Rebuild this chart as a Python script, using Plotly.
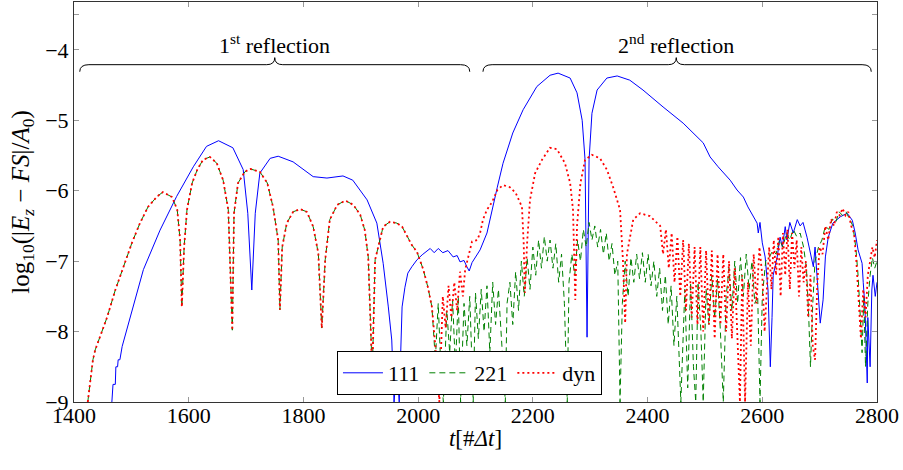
"""Field error after reflections for three boundary settings."""

import plotly.graph_objects as go

# 111 boundary (solid blue)
t_111 = [
    1466, 1468, 1472, 1473, 1476, 1477, 1480, 1484, 1521, 1550, 1579, 1608, 1631, 1652,
    1677, 1695, 1703, 1710, 1716, 1724, 1742, 1756, 1782, 1817, 1841, 1869, 1886, 1899,
    1911, 1928, 1939, 1948, 1954, 1958, 1963, 1967, 1972, 1977, 1982, 1989, 1998, 2007,
    2016, 2021, 2028, 2035, 2043, 2052, 2061, 2068, 2073, 2080, 2085, 2089, 2094, 2099,
    2108, 2120, 2131, 2138, 2148, 2165, 2183, 2207, 2230, 2244, 2265, 2277, 2286, 2291,
    2294.5, 2298, 2303, 2312, 2329, 2347, 2369, 2392, 2427, 2462, 2497, 2509, 2523, 2535,
    2544, 2556, 2567, 2575, 2584, 2591, 2593, 2596, 2600, 2605, 2610, 2614, 2617, 2619,
    2626, 2631, 2635, 2640, 2643, 2648, 2654, 2661, 2666, 2671, 2678, 2683, 2689, 2692,
    2696, 2701, 2706, 2710, 2715, 2723, 2736, 2748, 2757, 2762, 2767, 2774, 2776, 2779,
    2783, 2784, 2788, 2791, 2793, 2797, 2800,
]
err_111 = [
    -9.0, -8.75, -8.75, -8.5, -8.5, -8.4, -8.4, -8.21, -7.12, -6.56, -6.08, -5.66, -5.37, -5.29,
    -5.39, -5.70, -6.32, -7.41, -6.32, -5.75, -5.54, -5.51, -5.59, -5.80, -5.82, -5.79, -5.85, -5.99,
    -6.13, -6.46, -7.03, -7.65, -8.12, -9.0, -8.5, -9.0, -7.65, -7.37, -7.17, -7.08, -6.98, -6.91,
    -6.85, -6.82, -6.88, -6.82, -6.88, -6.85, -6.94, -6.92, -7.01, -6.99, -7.08, -7.14, -7.02, -6.95,
    -6.84, -6.60, -6.23, -5.95, -5.61, -5.18, -4.85, -4.52, -4.36, -4.33, -4.40, -4.61, -5.0, -5.56,
    -8.08, -5.56, -4.90, -4.57, -4.40, -4.37, -4.43, -4.57, -4.81, -5.04, -5.32, -5.52, -5.66, -5.76,
    -5.85, -5.99, -6.09, -6.23, -6.37, -6.46, -6.60, -6.45, -6.74, -6.94, -7.41, -8.5, -7.8, -7.2,
    -6.94, -6.66, -6.80, -6.51, -6.70, -6.45, -6.60, -6.41, -6.50, -6.45, -6.66, -6.84, -7.08, -6.80,
    -7.36, -7.88, -7.55, -6.94, -6.66, -6.46, -6.37, -6.32, -6.42, -6.60, -6.84, -7.03, -7.30, -7.65,
    -8.73, -7.8, -8.5, -7.41, -7.2, -7.5, -7.3,
]

# first reflection, where 221 and dyn coincide
t_common = [
    1424, 1428, 1433, 1437, 1445, 1458, 1472, 1485, 1501, 1515, 1529, 1545, 1555, 1571,
    1580, 1585, 1588, 1592, 1597, 1606, 1615, 1625, 1637, 1649, 1660, 1669, 1676, 1679,
    1686, 1698, 1707, 1724, 1737, 1747, 1756, 1759, 1763, 1771, 1782, 1794, 1806, 1817,
    1826, 1832, 1838, 1846, 1859, 1873, 1887, 1899, 1907, 1913, 1920, 1925, 1930, 1939,
    1951, 1963, 1972, 1981, 1989, 1998, 2009, 2017, 2024,
]
err_common = [
    -9.0, -8.73, -8.4, -8.26, -8.07, -7.79, -7.41, -7.12, -6.74, -6.46, -6.23, -6.08, -6.02, -6.09,
    -6.27, -6.70, -7.65, -6.80, -6.27, -5.89, -5.70, -5.56, -5.52, -5.61, -5.85, -6.27, -7.98, -6.32,
    -5.89, -5.73, -5.69, -5.73, -5.89, -6.23, -6.70, -7.69, -6.80, -6.46, -6.30, -6.26, -6.30, -6.51,
    -6.89, -7.95, -6.98, -6.41, -6.20, -6.14, -6.20, -6.34, -6.56, -6.94, -8.6, -6.98, -6.80, -6.51,
    -6.44, -6.46, -6.51, -6.66, -6.77, -6.87, -7.12, -7.37, -7.65,
]

# 221 boundary after 2024 (dashed green)
t_221_tail = [
    2030, 2035, 2040, 2044, 2050, 2055, 2060, 2065, 2070, 2074, 2080, 2085, 2090, 2096,
    2100, 2105, 2110, 2115, 2120, 2125, 2130, 2135, 2140, 2146, 2152, 2155, 2160, 2165,
    2170, 2175, 2180, 2185, 2190, 2195, 2200, 2205, 2210, 2215, 2220, 2225, 2230, 2235,
    2240, 2245, 2250, 2255, 2260, 2263, 2268, 2273, 2278, 2283, 2288, 2293, 2298, 2303,
    2308, 2313, 2318, 2323, 2328, 2333, 2338, 2343, 2348, 2352, 2356, 2361, 2366, 2371,
    2376, 2381, 2386, 2391, 2396, 2401, 2406, 2411, 2416, 2421, 2426, 2431, 2436, 2441,
    2446, 2451, 2458, 2465, 2470, 2475, 2480, 2484, 2488, 2493, 2497, 2502, 2507, 2512,
    2517, 2522, 2527, 2532, 2537, 2542, 2547, 2552, 2557, 2562, 2567, 2572, 2577, 2582,
    2587, 2592, 2596, 2600, 2606, 2612, 2618, 2624, 2630, 2636, 2642, 2648, 2654, 2660,
    2666, 2672, 2677, 2681, 2684, 2688, 2692, 2698, 2704, 2710, 2716, 2722, 2728, 2734,
    2740, 2746, 2752, 2758, 2763, 2767, 2771, 2774, 2777, 2780, 2784, 2788, 2792, 2796,
    2800,
]
err_221_tail = [
    -8.4, -7.6, -8.6, -9.0, -7.7, -8.3, -7.55, -8.5, -7.5, -9.0, -7.6, -8.2, -7.5, -9.0,
    -7.45, -8.1, -7.4, -8.0, -7.35, -8.3, -7.3, -7.9, -7.4, -8.2, -9.0, -7.6, -7.3, -7.9,
    -7.15, -7.7, -7.0, -7.5, -6.95, -7.4, -6.8, -7.2, -6.7, -7.1, -6.65, -7.0, -6.7, -7.1,
    -6.75, -7.3, -6.9, -7.6, -9.0, -7.3, -6.9, -7.2, -6.7, -7.0, -6.55, -6.8, -6.45, -6.7,
    -6.5, -6.8, -6.55, -6.9, -6.6, -7.0, -6.75, -7.2, -7.0, -9.0, -7.6, -7.0, -7.5, -6.95,
    -7.3, -6.9, -7.25, -6.88, -7.3, -6.9, -7.35, -7.0, -7.5, -7.1, -7.7, -7.2, -7.9, -7.35,
    -8.2, -7.5, -9.0, -7.4, -8.8, -7.3, -8.5, -9.0, -7.3, -8.0, -9.0, -7.4, -7.9, -7.2,
    -7.8, -7.25, -8.0, -9.0, -7.5, -7.1, -7.7, -7.0, -7.6, -6.95, -7.5, -6.9, -7.4, -7.0,
    -7.6, -7.5, -9.0, -7.5, -7.0, -6.95, -6.85, -6.9, -6.7, -6.8, -6.6, -6.7, -6.55, -6.65,
    -6.6, -6.8, -7.1, -7.8, -8.5, -7.6, -7.0, -6.8, -6.7, -6.5, -6.55, -6.4, -6.45, -6.3,
    -6.35, -6.3, -6.4, -6.5, -6.8, -7.2, -7.8, -8.3, -7.5, -8.5, -7.6, -7.2, -6.95, -7.1,
    -7.0,
]

# dyn boundary after 2024 (dotted red)
t_dyn_tail = [
    2030, 2037, 2043, 2048, 2053, 2058, 2063, 2068, 2073, 2078, 2082, 2087, 2094, 2103,
    2108, 2113, 2120, 2129, 2138, 2148, 2160, 2170, 2181, 2184, 2186, 2190, 2195, 2204,
    2216, 2230, 2242, 2256, 2265, 2270, 2274, 2277, 2283, 2291, 2303, 2317, 2329, 2340,
    2352, 2357, 2361, 2364, 2370, 2375, 2387, 2404, 2422, 2427, 2432, 2437, 2442, 2447,
    2452, 2457, 2462, 2467, 2472, 2477, 2482, 2487, 2492, 2497, 2502, 2507, 2512, 2517,
    2522, 2527, 2532, 2537, 2542, 2547, 2552, 2557, 2561, 2565, 2570, 2575, 2580, 2585,
    2590, 2595, 2600, 2604, 2608, 2612, 2616, 2620, 2624, 2628, 2632, 2636, 2640, 2644,
    2648, 2652, 2656, 2660, 2664, 2668, 2672, 2676, 2680, 2684, 2688, 2692, 2696, 2700,
    2705, 2710, 2715, 2720, 2725, 2730, 2735, 2740, 2745, 2750, 2755, 2760, 2764, 2768,
    2772, 2776, 2780, 2784, 2788, 2792, 2796, 2800,
]
err_dyn_tail = [
    -8.2, -9.0, -7.5, -7.95, -7.35, -7.8, -7.3, -7.7, -7.15, -7.5, -7.12, -6.94, -6.72, -6.70,
    -6.60, -6.41, -6.27, -6.16, -5.99, -5.92, -5.95, -6.03, -6.23, -6.74, -7.45, -6.74, -6.13, -5.75,
    -5.56, -5.39, -5.41, -5.61, -5.89, -6.27, -7.55, -6.5, -5.89, -5.56, -5.49, -5.54, -5.70, -5.95,
    -6.27, -6.98, -7.88, -6.9, -6.60, -6.41, -6.32, -6.36, -6.5, -6.9, -6.55, -7.1, -6.6, -7.3,
    -6.65, -7.5, -6.7, -7.7, -6.75, -7.8, -6.8, -7.9, -6.8, -8.0, -6.85, -7.9, -6.85, -8.1,
    -6.9, -7.9, -6.9, -8.0, -7.0, -8.1, -7.1, -8.3, -9.0, -7.2, -9.0, -7.3, -8.2, -6.9,
    -7.6, -6.8, -7.2, -8.0, -7.3, -6.8, -7.4, -6.7, -7.2, -6.65, -7.5, -6.6, -7.2, -6.55,
    -7.4, -6.6, -7.1, -6.7, -7.5, -6.8, -7.3, -7.0, -7.8, -7.2, -8.2, -8.4, -7.3, -6.8,
    -6.9, -6.5, -6.7, -6.4, -6.5, -6.3, -6.35, -6.25, -6.35, -6.3, -6.5, -6.6, -7.0, -7.6,
    -8.1, -7.4, -7.8, -7.2, -7.0, -6.8, -6.95, -6.7,
]

x_ticks = [1400, 1600, 1800, 2000, 2200, 2400, 2600, 2800]
y_ticks = [-9, -8, -7, -6, -5, -4, -3.5]
y_tick_labels = ["\u22129", "\u22128", "\u22127", "\u22126", "\u22125", "\u22124", ""]

FONT = "Liberation Serif"

fig = go.Figure()
fig.add_trace(
    go.Scatter(
        x=t_111,
        y=err_111,
        mode="lines",
        name="111",
        line={"color": "#0000ff", "width": 1},
    ),
)
fig.add_trace(
    go.Scatter(
        x=t_common + t_221_tail,
        y=err_common + err_221_tail,
        mode="lines",
        name="221",
        line={"color": "#008000", "width": 1, "dash": "6px,4px"},
    ),
)
fig.add_trace(
    go.Scatter(
        x=t_common + t_dyn_tail,
        y=err_common + err_dyn_tail,
        mode="lines",
        name="dyn",
        line={"color": "#ff0000", "width": 1.8, "dash": "2px,3px"},
    ),
)


def brace(x0, x1, xc, y_end=-4.31, y_mid=-4.21, y_tip=-4.11, dx=16, dtip=14):
    """Horizontal curly brace opening downwards, in data coordinates."""
    return (
        f"M {x0},{y_end} Q {x0},{y_mid} {x0 + dx},{y_mid} "
        f"L {xc - dtip},{y_mid} Q {xc},{y_mid} {xc},{y_tip} "
        f"Q {xc},{y_mid} {xc + dtip},{y_mid} "
        f"L {x1 - dx},{y_mid} Q {x1},{y_mid} {x1},{y_end}"
    )


for x0, x1, xc, label in [
    (1410, 2090, 1750, "1<sup>st</sup> reflection"),
    (2113, 2790, 2450, "2<sup>nd</sup> reflection"),
]:
    fig.add_shape(
        type="path",
        path=brace(x0, x1, xc),
        xref="x",
        yref="y",
        line={"color": "black", "width": 1},
    )
    fig.add_annotation(
        x=xc,
        y=-3.92,
        text=label,
        showarrow=False,
        font={"family": FONT, "size": 22, "color": "black"},
    )

axis_common = {
    "showline": True,
    "linecolor": "#333333",
    "linewidth": 1,
    "mirror": "ticks",
    "ticks": "inside",
    "ticklen": 5,
    "tickcolor": "#999999",
    "showgrid": False,
    "zeroline": False,
    "tickfont": {"family": FONT, "size": 22, "color": "black"},
}

fig.update_xaxes(
    range=[1400, 2800],
    tickvals=x_ticks,
    ticklabelstandoff=-6,
    ticklabeloverflow="allow",
    title={
        "text": "<i>t</i>[#<i>\u0394t</i>]",
        "font": {"family": FONT, "size": 23, "color": "black"},
        "standoff": 2,
    },
    **axis_common,
)
fig.update_yaxes(
    range=[-9, -3.32],
    tickvals=y_ticks,
    ticktext=y_tick_labels,
    title={
        "text": "log<sub>10</sub>(|<i>E</i><sub><i>z</i></sub> \u2212 <i>FS</i>|/<i>A</i><sub>0</sub>)",
        "font": {"family": FONT, "size": 25, "color": "black"},
        "standoff": 8,
    },
    **axis_common,
)

fig.update_layout(
    width=903,
    height=470,
    margin={"l": 74, "r": 26, "t": 2, "b": 68},
    font={"family": FONT, "size": 22, "color": "black"},
    plot_bgcolor="white",
    paper_bgcolor="white",
    legend={
        "orientation": "h",
        "x": 0.3275,
        "y": 0.1275,
        "xanchor": "left",
        "yanchor": "top",
        "bgcolor": "white",
        "bordercolor": "black",
        "borderwidth": 1,
        "font": {"family": FONT, "size": 22, "color": "black"},
        "itemwidth": 40,
        "tracegroupgap": 0,
    },
)

# the page body keeps its default 8px margin otherwise, shifting the chart
fig.write_html(
    "out.html",
    config={"displayModeBar": False},
    post_script="document.body.style.margin = '0';",
)
